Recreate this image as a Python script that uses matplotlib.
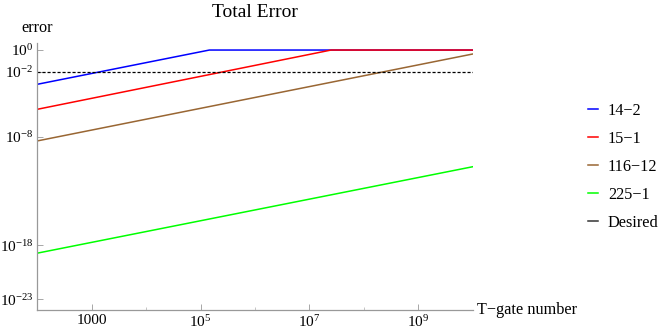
import numpy as np
import matplotlib
matplotlib.use("Agg")
import matplotlib.pyplot as plt
from matplotlib.lines import Line2D
from matplotlib.ticker import FixedLocator, NullFormatter

plt.rcParams['font.family'] = ['Liberation Serif', 'DejaVu Serif']
plt.rcParams['mathtext.fontset'] = 'custom'
plt.rcParams['mathtext.rm'] = 'Liberation Serif'
plt.rcParams['mathtext.it'] = 'Liberation Serif:italic'

# Data (T-gate number vs. total error)
x_142 = [1e2, 1.45e5, 1e10]
y_142 = [6.9e-4, 1.0, 1.0]
x_151 = [1e2, 2.5e7, 1e10]
y_151 = [3.4e-6, 1.0, 1.0]
x_11612 = [1e2, 1e10]
y_11612 = [4.1e-9, 0.43]
x_2251 = [1e2, 1e10]
y_2251 = [1.8e-19, 1.7e-11]
x_desired = [1e2, 1e10]
y_desired = [1e-2, 1e-2]

labels = ["14\u22122", "15\u22121", "116\u221212", "225\u22121", "Desired"]

xticks = [1e3, 1e5, 1e7, 1e9]
xtick_labels = ["1000", "$10^{5}$", "$10^{7}$", "$10^{9}$"]
xminor = [1e4, 1e6, 1e8]
yticks = [1e0, 1e-2, 1e-8, 1e-18, 1e-23]
ytick_labels = ["$10^{0}$", "$10^{-2}$", "$10^{-8}$", "$10^{-18}$", "$10^{-23}$"]

fig = plt.figure(figsize=(6.64, 3.32), dpi=100)
ax = fig.add_axes([0.0562, 0.0663, 0.6557, 0.8042])

lw = 1.1
h1, = ax.plot(x_142, y_142, color=(0, 0, 1), lw=lw, label=labels[0])
h2, = ax.plot(x_151, y_151, color=(1, 0, 0), lw=lw, label=labels[1])
h3, = ax.plot(x_11612, y_11612, color=(0.6, 0.4, 0.2), lw=lw, label=labels[2])
h4, = ax.plot(x_2251, y_2251, color=(0, 1, 0), lw=lw, label=labels[3])
ax.plot(x_desired, y_desired, color='black', lw=0.9, ls=(0, (2.5, 1.5)))
h5 = Line2D([], [], color='#333333', lw=lw, label=labels[4])

ax.set_xscale('log')
ax.set_yscale('log')
ax.set_xlim(1e2, 1e10)
ax.set_ylim(10**-23.99, 10**0.65)

ax.xaxis.set_major_locator(FixedLocator(xticks))
ax.set_xticklabels(xtick_labels)
ax.xaxis.set_minor_locator(FixedLocator(xminor))
ax.xaxis.set_minor_formatter(NullFormatter())
ax.yaxis.set_major_locator(FixedLocator(yticks))
ax.set_yticklabels(ytick_labels)
ax.yaxis.set_minor_locator(FixedLocator([]))

for s in ['top', 'right']:
    ax.spines[s].set_visible(False)
for s in ['left', 'bottom']:
    ax.spines[s].set_color('#999999')
    ax.spines[s].set_linewidth(0.9)

ax.tick_params(which='major', direction='in', length=4, width=0.6, color='#999999',
               labelsize=11, pad=3)
ax.tick_params(which='minor', direction='in', length=2.5, width=0.6, color='#bbbbbb')

fig.text(0.3845, 0.963, "Total Error", ha='center', va='center', fontsize=14)
fig.text(0.056, 0.915, "error", ha='center', va='center', fontsize=11.7)
fig.text(0.718, 0.066, "T\u2212gate number", ha='left', va='center', fontsize=11.7)

fig.legend(handles=[h1, h2, h3, h4, h5], loc='upper left', bbox_to_anchor=(0.8855, 0.691),
           frameon=False, fontsize=11.7, handlelength=0.62, handletextpad=0.6,
           labelspacing=0.74, borderpad=0, borderaxespad=0)

fig.savefig("out.png", dpi=100)
